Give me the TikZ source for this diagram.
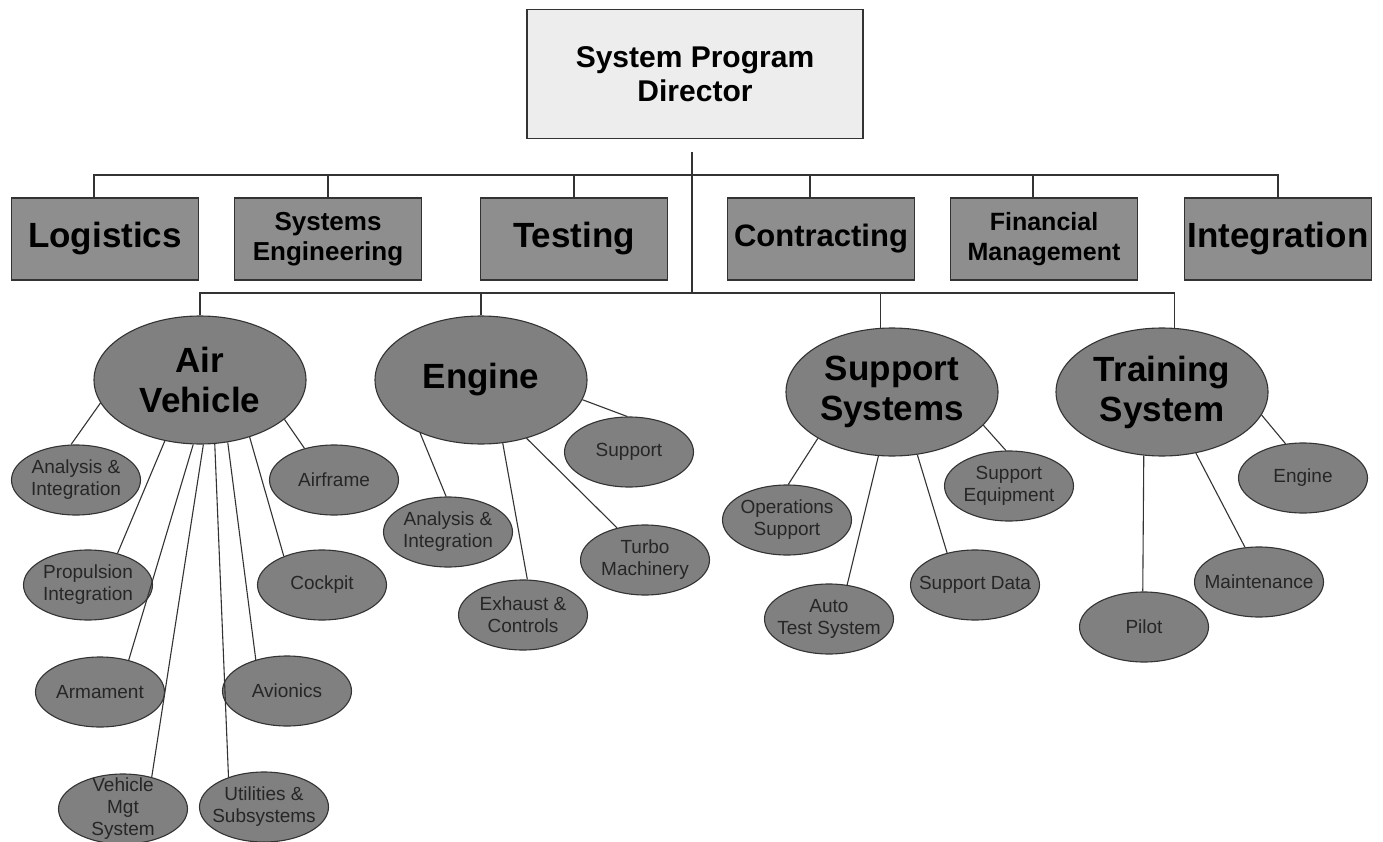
\documentclass[tikz,border=0pt]{standalone}
\usepackage{fontspec}
\setmainfont{Liberation Sans}
\usetikzlibrary{shapes.geometric}
\definecolor{headGray}{HTML}{EDEDED}
\definecolor{deptGray}{HTML}{8E8E8E}
\definecolor{ovalGray}{HTML}{808080}
\definecolor{lineGray}{HTML}{333333}

\begin{document}
\begin{tikzpicture}
      [x=1pt,y=-1pt,
       nodeHead/.style={rectangle,draw=lineGray,line width=1.1pt,fill=headGray,
         minimum width=336pt,minimum height=129pt,inner sep=0pt,align=center,
         font=\bfseries\fontsize{30}{34}\selectfont},
       nodeDept/.style={rectangle,draw=lineGray,line width=1.1pt,fill=deptGray,
         minimum width=187pt,minimum height=82pt,inner sep=-20pt,align=center},
       nodeArea/.style={ellipse,draw=lineGray,line width=1.1pt,fill=ovalGray,
         minimum width=212pt,minimum height=128pt,inner sep=-30pt,align=center,
         font=\bfseries\fontsize{35}{40}\selectfont},
       nodeItem/.style={ellipse,draw=lineGray,line width=1.1pt,fill=ovalGray,
         minimum width=129pt,minimum height=70pt,inner sep=-30pt,align=center,
         text=black!85,font=\fontsize{19}{22}\selectfont},
       link/.style={draw=lineGray,line width=1.1pt}]
      \useasboundingbox[fill=white] (0,0) rectangle (1383,842);

      \node[nodeHead] (spd) at (695,74) {System Program\\Director};

      \node[nodeDept,font=\bfseries\fontsize{35}{40}\selectfont] (log) at (105,239) {Logistics};
      \node[nodeDept,font=\bfseries\fontsize{26}{30}\selectfont] (se) at (328,239) {Systems\\Engineering};
      \node[nodeDept,font=\bfseries\fontsize{35}{40}\selectfont] (tst) at (574,239) {Testing};
      \node[nodeDept,font=\bfseries\fontsize{31}{36}\selectfont] (con) at (821,239) {Contracting};
      \node[nodeDept,font=\bfseries\fontsize{25}{30}\selectfont] (fin) at (1044,239) {Financial\\Management};
      \node[nodeDept,font=\bfseries\fontsize{35}{40}\selectfont] (int) at (1278,239) {Integration};

      \node[nodeArea] (av) at (200,380) {Air\\Vehicle};
      \node[nodeArea] (eng) at (481,380) {Engine};
      \node[nodeArea] (ss) at (892,392) {Support\\Systems};
      \node[nodeArea] (ts) at (1162,392) {Training\\System};

      \node[nodeItem] (av1) at (76,480) {Analysis \&\\Integration};
      \node[nodeItem] (av2) at (88,585) {Propulsion\\Integration};
      \node[nodeItem] (av3) at (100,692) {Armament};
      \node[nodeItem] (av4) at (123,809) {Vehicle\\Mgt\\System};
      \node[nodeItem] (av5) at (264,807) {Utilities \&\\Subsystems};
      \node[nodeItem] (av6) at (287,691) {Avionics};
      \node[nodeItem] (av7) at (322,585) {Cockpit};
      \node[nodeItem] (av8) at (334,480) {Airframe};

      \node[nodeItem] (en1) at (448,532) {Analysis \&\\Integration};
      \node[nodeItem] (en2) at (523,615) {Exhaust \&\\Controls};
      \node[nodeItem] (en3) at (645,560) {Turbo\\Machinery};
      \node[nodeItem] (en4) at (629,452) {Support};

      \node[nodeItem] (ss1) at (787,520) {Operations\\Support};
      \node[nodeItem] (ss2) at (829,619) {Auto\\Test System};
      \node[nodeItem] (ss3) at (975,585) {Support Data};
      \node[nodeItem] (ss4) at (1009,486) {Support\\Equipment};

      \node[nodeItem] (ts1) at (1144,627) {Pilot};
      \node[nodeItem] (ts2) at (1259,582) {Maintenance};
      \node[nodeItem] (ts3) at (1303,478) {Engine};

      \coordinate (spine) at (692,152);
      \coordinate (busTop) at (692,175);
      \coordinate (busLow) at (692,293);
      \draw[link] (spine) -- (busLow);

      \foreach \d/\s in {log/-11,se/0,tst/0,con/-11,fin/-11,int/0}
      \draw[link] ([xshift=\s pt]\d.north) |- (busTop);

      \foreach \a in {av.north,eng.north,ss.100,ts.79}
      \draw[link] (\a) |- (busLow);

      \foreach \from/\to in {av.193/av1.98,av.240/av2.47,av.264/av3.48,av.273/av4.48,
        av.283/av5.140,av.294/av6.135,av.311/av7.143,av.335/av8.133,
        eng.221/en1.93,eng.289/en2.83,eng.308/en3.131,eng.349/en4.93,
        ss.212/ss1.88,ss.258/ss2.62,ss.292/ss3.131,ss.340/ss4.95,
        ts.254/ts1.92,ts.299/ts2.112,ts.347/ts3.117}
      \draw[link] (\from) -- (\to);
    \end{tikzpicture}
\end{document}
